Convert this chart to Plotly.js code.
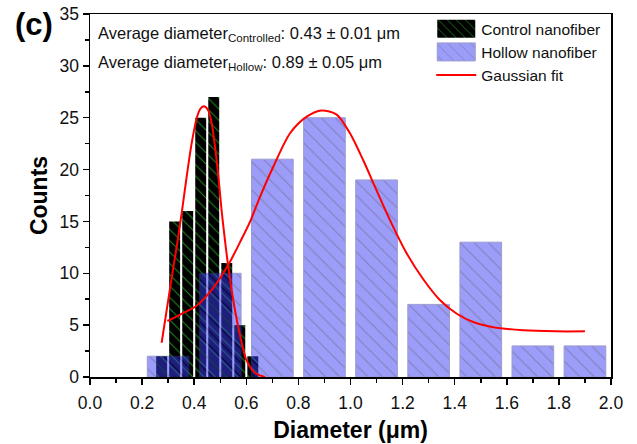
<!DOCTYPE html>
<html>
<head>
<meta charset="utf-8">
<script src="https://cdn.plot.ly/plotly-3.0.1.min.js"></script>
<style>html,body{margin:0;padding:0;background:#fff;}#chart{width:637px;height:444px;}</style>
</head>
<body>
<div id="chart"></div>
<script>
// Control nanofiber histogram
const controlX = [0.275, 0.325, 0.375, 0.425, 0.475, 0.525, 0.575, 0.625];
const controlCounts = [2, 15, 16, 25, 27, 11, 5, 2];
// Hollow nanofiber histogram
const hollowX = [0.3, 0.5, 0.7, 0.9, 1.1, 1.3, 1.5, 1.7, 1.9];
const hollowCounts = [2, 10, 21, 25, 19, 7, 13, 3, 3];
// Gaussian fit curves
const controlFitX = [0.275, 0.307, 0.333, 0.352, 0.371, 0.39, 0.41, 0.425, 0.438, 0.454, 0.467, 0.48, 0.493, 0.505, 0.518, 0.531, 0.55, 0.576, 0.601, 0.633, 0.672];
const controlFitY = [3.3, 8.5, 12.6, 15.8, 19.3, 22.5, 25.0, 25.9, 26.1, 25.7, 24.5, 22.2, 19.3, 16.1, 13.2, 10.6, 7.4, 4.0, 1.6, 0.4, 0.0];
const hollowFitX = [0.297, 0.345, 0.41, 0.473, 0.537, 0.576, 0.615, 0.653, 0.704, 0.768, 0.832, 0.889, 0.947, 0.998, 1.049, 1.100, 1.152, 1.216, 1.28, 1.344, 1.408, 1.471, 1.548, 1.663, 1.79, 1.9];
const hollowFitY = [5.4, 6.0, 6.9, 8.6, 11.1, 13.0, 15.0, 17.4, 20.3, 23.5, 25.1, 25.7, 25.3, 23.5, 20.9, 18.0, 15.1, 11.9, 9.4, 7.4, 6.1, 5.3, 4.8, 4.5, 4.4, 4.4];
const xTicks = [0.0, 0.2, 0.4, 0.6, 0.8, 1.0, 1.2, 1.4, 1.6, 1.8, 2.0];
const yTicks = [0, 5, 10, 15, 20, 25, 30, 35];

const FONT = 'Arial, Liberation Sans, sans-serif';

const traces = [
  {
    type: 'bar', name: 'Control nanofiber', x: controlX, y: controlCounts, width: 0.042,
    marker: {color: 'black', line: {width: 0},
      pattern: {shape: '\\', bgcolor: 'black', fgcolor: '#1f8f1f', size: 8, solidity: 0.12, fillmode: 'replace'}}
  },
  {
    type: 'bar', name: 'Hollow nanofiber', x: hollowX, y: hollowCounts, width: 0.16,
    marker: {color: 'rgb(60,60,245)', opacity: 0.5, line: {width: 1, color: 'rgb(60,60,160)'},
      pattern: {shape: '\\', bgcolor: 'rgb(60,60,245)', fgcolor: 'rgb(0,0,110)', size: 10, solidity: 0.1, fillmode: 'replace'}}
  },
  {
    type: 'scatter', mode: 'lines', name: 'Gaussian fit', x: controlFitX, y: controlFitY,
    line: {color: '#ff0000', width: 2, shape: 'spline', smoothing: 0.8}
  },
  {
    type: 'scatter', mode: 'lines', name: 'Gaussian fit', showlegend: false, x: hollowFitX, y: hollowFitY,
    line: {color: '#ff0000', width: 2, shape: 'spline', smoothing: 0.8}
  }
];

const tickFont = {family: FONT, size: 17.5, color: '#111'};
const layout = {
  width: 637, height: 444,
  margin: {l: 90, r: 26, t: 14, b: 67},
  paper_bgcolor: '#fff', plot_bgcolor: '#fff',
  barmode: 'overlay',
  showlegend: true,
  legend: {x: 0.655, y: 1.005, xanchor: 'left', yanchor: 'top', bgcolor: 'rgba(0,0,0,0)',
    font: {family: FONT, size: 15.5, color: '#111'}, itemwidth: 40, tracegroupgap: 0},
  xaxis: {
    range: [0, 2], tickvals: xTicks, ticktext: xTicks.map(v => v.toFixed(1)),
    ticks: 'outside', ticklen: 6, tickwidth: 1.5, tickcolor: '#000', ticklabelstandoff: 3,
    minor: {dtick: 0.1, ticks: 'outside', ticklen: 4, tickwidth: 1.5, tickcolor: '#000', showgrid: false},
    showline: true, linecolor: '#000', linewidth: 1.5, mirror: true, showgrid: false, zeroline: false,
    tickfont: tickFont,
    title: {text: '<b>Diameter (μm)</b>', font: {family: FONT, size: 23, color: '#000'}, standoff: 10}
  },
  yaxis: {
    range: [0, 35], tickvals: yTicks, ticktext: yTicks.map(String),
    ticks: 'outside', ticklen: 6, tickwidth: 1.5, tickcolor: '#000',
    minor: {dtick: 2.5, ticks: 'outside', ticklen: 4, tickwidth: 1.5, tickcolor: '#000', showgrid: false},
    showline: true, linecolor: '#000', linewidth: 1.5, mirror: true, showgrid: false, zeroline: false,
    tickfont: tickFont,
    title: {text: '<b>Counts</b>', font: {family: FONT, size: 23, color: '#000'}, standoff: 5}
  },
  annotations: [
    {xref: 'paper', yref: 'paper', x: -0.108, y: 0.972, xanchor: 'center', yanchor: 'middle', showarrow: false,
      text: '<b>(c)</b>', font: {family: FONT, size: 31, color: '#000'}},
    {xref: 'paper', yref: 'paper', x: 0.011, y: 0.944, xanchor: 'left', yanchor: 'middle', showarrow: false,
      text: 'Average diameter<sub>Controlled</sub>: 0.43 ± 0.01 μm', font: {family: FONT, size: 16.5, color: '#111'}},
    {xref: 'paper', yref: 'paper', x: 0.011, y: 0.864, xanchor: 'left', yanchor: 'middle', showarrow: false,
      text: 'Average diameter<sub>Hollow</sub>: 0.89 ± 0.05 μm', font: {family: FONT, size: 16.5, color: '#111'}}
  ]
};

Plotly.newPlot('chart', traces, layout, {displayModeBar: false, staticPlot: true}).then(function () {
  // enlarge the legend swatches of the bar traces to match the reference
  const groups = document.querySelectorAll('.legend .traces');
  groups.forEach(function (g, i) {
    g.querySelectorAll('.legendpoints path').forEach(function (p) {
      p.setAttribute('d', 'M19,9H-19V-9H19Z');
      if (i === 1) { p.style.opacity = 0.5; }
    });
  });
});
</script>
</body>
</html>
